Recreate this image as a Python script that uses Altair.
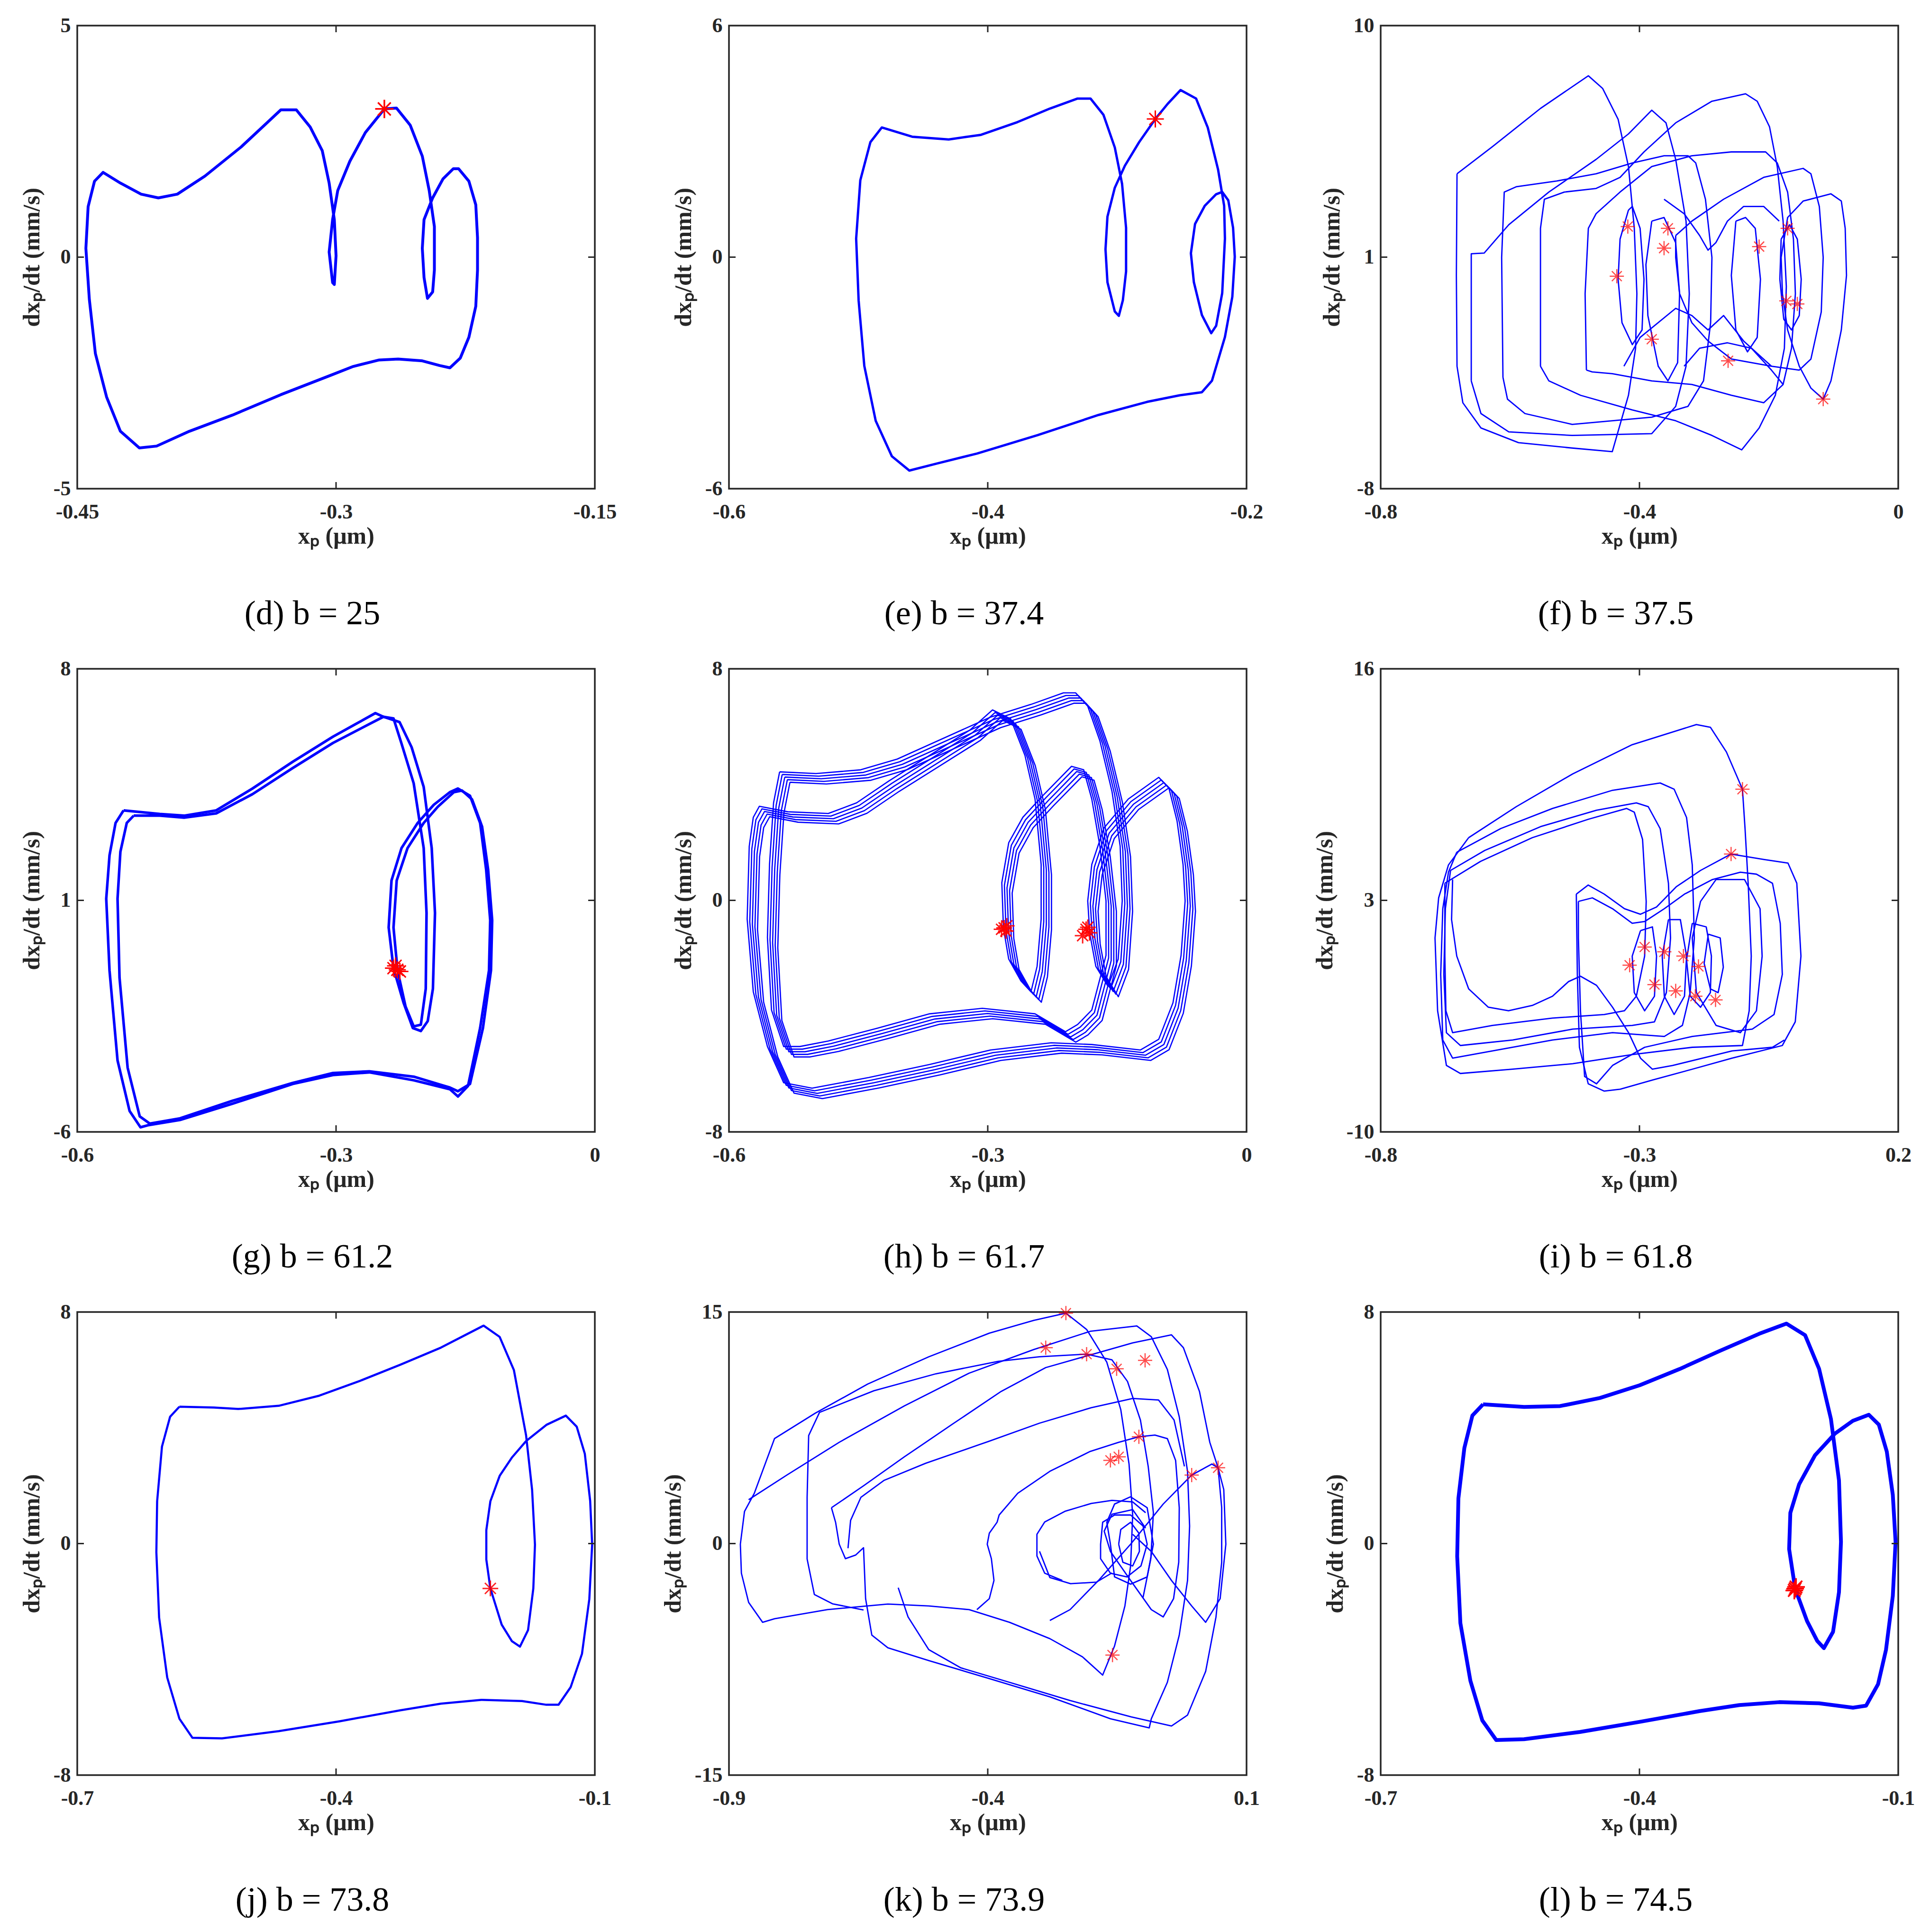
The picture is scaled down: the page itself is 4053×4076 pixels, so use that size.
import altair as alt
import pandas as pd

BLUE = "#0000ff"
RED = "#ff0000"
FRAME = "#262626"
SERIF = "Liberation Serif"
STAR = "M-1,0L1,0M0,-1L0,1M-0.7,-0.7L0.7,0.7M-0.7,0.7L0.7,-0.7"
W, H = 1092, 977

# ---------------- (d) b = 25 ----------------
d_curve = [(-0.272,3.20),(-0.265,3.22),(-0.257,2.85),(-0.250,2.18),(-0.246,1.44),(-0.243,0.66),(-0.243,-0.28),(-0.244,-0.75),(-0.247,-0.89),(-0.249,-0.44),(-0.250,0.19),(-0.249,0.81),(-0.244,1.28),(-0.238,1.69),(-0.232,1.91),(-0.229,1.91),(-0.223,1.64),(-0.219,1.13),(-0.218,0.42),(-0.218,-0.28),(-0.219,-1.06),(-0.223,-1.73),(-0.228,-2.18),(-0.234,-2.39),(-0.240,-2.34),(-0.250,-2.24),(-0.264,-2.20),(-0.275,-2.22),(-0.290,-2.36),(-0.303,-2.55),(-0.332,-2.97),(-0.360,-3.41),(-0.385,-3.76),(-0.404,-4.08),(-0.414,-4.12),(-0.425,-3.76),(-0.433,-3.02),(-0.4395,-2.08),(-0.443,-0.91),(-0.445,0.19),(-0.4437,1.09),(-0.440,1.64),(-0.435,1.83),(-0.425,1.60),(-0.413,1.36),(-0.403,1.28),(-0.392,1.36),(-0.376,1.75),(-0.355,2.38),(-0.332,3.18),(-0.323,3.18),(-0.315,2.81),(-0.308,2.30),(-0.304,1.60),(-0.301,0.81),(-0.300,0.03),(-0.301,-0.59),(-0.302,-0.55),(-0.304,0.11),(-0.302,0.81),(-0.299,1.44),(-0.292,2.07),(-0.283,2.69),(-0.272,3.20)]
d_stars = [(-0.272,3.20)]

# ---------------- (e) b = 37.4 ----------------
e_curve = [(-0.2705,3.58),(-0.261,3.97),(-0.251,4.33),(-0.239,4.11),(-0.230,3.36),(-0.222,2.27),(-0.2173,1.33),(-0.2167,0.48),(-0.2188,-0.93),(-0.2235,-1.78),(-0.2273,-1.97),(-0.2345,-1.50),(-0.2407,-0.65),(-0.243,0.10),(-0.2398,0.86),(-0.2323,1.33),(-0.2235,1.63),(-0.2188,1.69),(-0.2141,1.47),(-0.2104,0.76),(-0.2091,0.01),(-0.211,-1.03),(-0.2167,-2.07),(-0.2267,-3.20),(-0.2345,-3.50),(-0.2517,-3.58),(-0.2768,-3.75),(-0.3144,-4.09),(-0.3613,-4.61),(-0.4083,-5.09),(-0.4396,-5.35),(-0.4606,-5.53),(-0.4741,-5.16),(-0.4866,-4.24),(-0.4954,-2.82),(-0.4998,-1.12),(-0.5017,0.48),(-0.4985,1.99),(-0.4907,2.98),(-0.4819,3.36),(-0.4584,3.12),(-0.4302,3.05),(-0.4052,3.17),(-0.377,3.50),(-0.352,3.85),(-0.3306,4.11),(-0.3206,4.11),(-0.3106,3.69),(-0.3018,2.84),(-0.2962,1.90),(-0.2931,0.76),(-0.2931,-0.37),(-0.2956,-1.12),(-0.2987,-1.52),(-0.3018,-1.41),(-0.3075,-0.65),(-0.309,0.20),(-0.3075,1.05),(-0.3018,1.80),(-0.294,2.37),(-0.283,2.98),(-0.2705,3.58)]
e_stars = [(-0.2705,3.58)]

# ---------------- (f) b = 37.5 ----------------
f_c1 = [(-0.682,4.24),(-0.627,5.30),(-0.553,6.78),(-0.479,8.05),(-0.457,7.56),(-0.433,6.36),(-0.417,4.52),(-0.408,2.12),(-0.404,-0.42),(-0.406,-2.54),(-0.417,-4.37),(-0.442,-6.56),(-0.504,-6.42),(-0.587,-6.21),(-0.645,-5.64),(-0.673,-4.66),(-0.682,-3.24),(-0.683,0.29),(-0.682,4.24)]
f_c2 = [(-0.660,-3.81),(-0.660,1.13),(-0.640,1.16),(-0.602,2.26),(-0.540,3.53),(-0.467,4.80),(-0.417,5.79),(-0.381,6.71),(-0.359,6.22),(-0.344,4.80),(-0.328,2.40),(-0.323,-0.42),(-0.328,-3.24),(-0.344,-4.80),(-0.381,-5.86),(-0.504,-5.93),(-0.602,-5.79),(-0.645,-5.08),(-0.660,-3.81)]
f_c3 = [(-0.611,-3.67),(-0.613,0.99),(-0.609,3.53),(-0.590,3.74),(-0.528,3.96),(-0.467,4.24),(-0.411,4.66),(-0.362,4.94),(-0.325,4.94),(-0.313,4.66),(-0.298,3.25),(-0.288,0.99),(-0.290,-1.55),(-0.301,-3.81),(-0.325,-4.80),(-0.381,-5.22),(-0.504,-5.50),(-0.577,-5.08),(-0.604,-4.52),(-0.611,-3.67)]
f_c4 = [(-0.553,-3.24),(-0.553,2.12),(-0.547,3.25),(-0.516,3.53),(-0.467,3.67),(-0.430,4.10),(-0.393,5.09),(-0.344,6.22),(-0.288,7.06),(-0.236,7.35),(-0.218,7.06),(-0.199,6.07),(-0.187,4.52),(-0.178,2.40),(-0.173,-0.14),(-0.176,-2.54),(-0.190,-4.37),(-0.215,-5.64),(-0.242,-6.49),(-0.288,-5.93),(-0.344,-5.36),(-0.411,-4.94),(-0.491,-4.37),(-0.540,-3.81),(-0.553,-3.24)]
f_c5 = [(-0.482,-3.39),(-0.484,-0.42),(-0.479,2.12),(-0.467,2.69),(-0.430,3.53),(-0.381,4.52),(-0.319,4.94),(-0.258,5.09),(-0.205,5.09),(-0.187,4.66),(-0.171,3.53),(-0.162,1.70),(-0.159,-0.42),(-0.165,-2.54),(-0.178,-3.95),(-0.208,-4.66),(-0.258,-4.37),(-0.319,-3.95),(-0.381,-3.81),(-0.442,-3.53),(-0.473,-3.46),(-0.482,-3.39)]
f_c6 = [(-0.344,1.84),(-0.319,2.40),(-0.270,3.25),(-0.208,4.10),(-0.147,4.45),(-0.135,4.24),(-0.122,2.97),(-0.116,0.99),(-0.119,-1.13),(-0.135,-2.96),(-0.153,-3.39),(-0.196,-3.24),(-0.258,-2.96),(-0.294,-2.26),(-0.319,-1.55),(-0.338,-0.42),(-0.344,0.99),(-0.344,1.84)]
f_c7 = [(-0.181,0.99),(-0.171,2.54),(-0.147,3.18),(-0.104,3.46),(-0.088,3.18),(-0.082,2.12),(-0.080,0.29),(-0.088,-1.83),(-0.104,-3.81),(-0.116,-4.52),(-0.135,-4.09),(-0.153,-3.24),(-0.171,-1.83),(-0.179,-0.42),(-0.181,0.99)]
f_c8 = [(-0.417,2.83),(-0.430,1.70),(-0.433,0.14),(-0.427,-1.55),(-0.411,-2.40),(-0.396,-1.83),(-0.393,0.14),(-0.399,2.12),(-0.411,2.97),(-0.417,2.83)]
f_c9 = [(-0.381,2.40),(-0.390,0.71),(-0.387,-1.27),(-0.371,-3.24),(-0.356,-3.81),(-0.341,-3.10),(-0.338,-0.42),(-0.344,1.56),(-0.362,2.54),(-0.381,2.40)]
f_c10 = [(-0.251,2.40),(-0.258,0.29),(-0.251,-1.83),(-0.233,-2.68),(-0.218,-2.12),(-0.213,0.14),(-0.221,2.12),(-0.236,2.54),(-0.251,2.40)]
f_c11 = [(-0.181,1.70),(-0.183,0.14),(-0.177,-1.41),(-0.165,-1.83),(-0.153,-1.27),(-0.150,0.14),(-0.156,1.70),(-0.168,2.26),(-0.181,1.70)]
f_c12 = [(-0.362,3.25),(-0.331,2.69),(-0.307,1.84),(-0.294,1.27),(-0.282,1.56),(-0.264,2.40),(-0.239,2.97),(-0.208,2.97),(-0.184,2.40)]
f_c13 = [(-0.424,-3.24),(-0.399,-2.12),(-0.344,-0.99),(-0.319,-1.27),(-0.294,-1.83),(-0.270,-1.27),(-0.239,-2.26),(-0.196,-3.24)]
f_c14 = [(-0.331,-3.24),(-0.307,-2.54),(-0.264,-2.33),(-0.227,-2.54),(-0.196,-3.39),(-0.178,-3.95)]
f_stars = [(-0.418,2.19),(-0.356,2.12),(-0.362,1.35),(-0.435,0.26),(-0.381,-2.19),(-0.263,-3.03),(-0.215,1.41),(-0.171,2.12),(-0.173,-0.70),(-0.156,-0.82),(-0.116,-4.52)]

# ---------------- (g) b = 61.2 ----------------
g_c1 = [(-0.5463,3.72),(-0.5043,3.61),(-0.4762,3.56),(-0.4389,3.72),(-0.3969,4.38),(-0.3502,5.19),(-0.3035,5.95),(-0.2544,6.66),(-0.2451,6.55),(-0.2264,6.39),(-0.2124,5.63),(-0.1984,4.43),(-0.1891,2.58),(-0.1853,0.62),(-0.1877,-1.67),(-0.1937,-2.65),(-0.2017,-2.95),(-0.211,-2.86),(-0.2217,-2.10),(-0.2334,-1.05),(-0.239,0.18),(-0.2357,1.60),(-0.2241,2.58),(-0.2054,3.34),(-0.1867,3.89),(-0.1681,4.27),(-0.1587,4.38),(-0.1447,4.16),(-0.1330,3.34),(-0.126,1.93),(-0.1213,0.40),(-0.1227,-1.12),(-0.133,-2.86),(-0.147,-4.61),(-0.1587,-4.93),(-0.1680,-4.71),(-0.2100,-4.44),(-0.2614,-4.20),(-0.3035,-4.28),(-0.3502,-4.55),(-0.4202,-5.15),(-0.4809,-5.64),(-0.5183,-5.80),(-0.5267,-5.86),(-0.5393,-5.37),(-0.5533,-3.84),(-0.5626,-1.12),(-0.5664,1.05),(-0.5626,2.36),(-0.5556,3.34),(-0.5463,3.72)]
g_c2 = [(-0.5346,3.56),(-0.5043,3.56),(-0.4762,3.50),(-0.4389,3.63),(-0.3969,4.21),(-0.3502,5.00),(-0.3035,5.76),(-0.2451,6.55),(-0.2334,6.50),(-0.2241,5.74),(-0.2100,4.54),(-0.1984,2.58),(-0.1951,0.62),(-0.1960,-1.67),(-0.2017,-2.76),(-0.2100,-2.81),(-0.2194,-2.21),(-0.2287,-1.12),(-0.2334,0.18),(-0.2297,1.60),(-0.2171,2.58),(-0.1984,3.34),(-0.182,3.83),(-0.1634,4.27),(-0.154,4.32),(-0.1423,4.05),(-0.1307,3.23),(-0.1237,1.93),(-0.119,0.40),(-0.1204,-1.12),(-0.1297,-2.86),(-0.1447,-4.55),(-0.1587,-4.77),(-0.1680,-4.66),(-0.2100,-4.33),(-0.2614,-4.17),(-0.3035,-4.22),(-0.3502,-4.52),(-0.4202,-5.06),(-0.4809,-5.59),(-0.5159,-5.75),(-0.5276,-5.53),(-0.5416,-4.06),(-0.551,-1.34),(-0.5533,1.05),(-0.55,2.47),(-0.5426,3.34),(-0.5346,3.56)]
g_stars = [(-0.2334,-1.05),(-0.229,-1.10),(-0.226,-1.15),(-0.231,-0.98)]

# ---------------- (h) b = 61.7 ----------------
h_base = [(-0.5413,4.44),(-0.499,4.38),(-0.4473,4.51),(-0.405,4.88),(-0.358,5.51),(-0.2969,6.33),(-0.2499,6.77),(-0.2123,7.17),(-0.1982,7.17),(-0.1841,6.71),(-0.17,5.51),(-0.1559,3.75),(-0.1465,1.87),(-0.1441,-0.02),(-0.1488,-2.03),(-0.1606,-2.97),(-0.1747,-2.28),(-0.1817,-1.15),(-0.1841,-0.02),(-0.1794,1.24),(-0.1653,2.50),(-0.1371,3.50),(-0.1018,4.25),(-0.09,3.88),(-0.0806,2.75),(-0.0736,1.24),(-0.0712,-0.02),(-0.0759,-1.90),(-0.0853,-3.54),(-0.1018,-4.80),(-0.123,-5.17),(-0.1794,-4.98),(-0.2264,-4.92),(-0.2969,-5.17),(-0.3674,-5.67),(-0.4379,-6.12),(-0.5037,-6.49),(-0.5366,-6.30),(-0.5554,-5.05),(-0.5718,-3.16),(-0.5789,-0.65),(-0.5765,1.87),(-0.5718,2.87),(-0.5648,3.25),(-0.5319,3.06),(-0.4849,3.00),(-0.452,3.37),(-0.4144,4.13),(-0.3674,5.01),(-0.3204,5.89),(-0.2945,6.58),(-0.2734,6.27),(-0.2569,5.01),(-0.2452,3.50),(-0.2381,1.24),(-0.2381,-0.65),(-0.2428,-2.28),(-0.2499,-3.16),(-0.2616,-2.78),(-0.2757,-2.03),(-0.2818,-0.96),(-0.2837,0.61),(-0.2757,1.99),(-0.2593,2.87),(-0.2358,3.63),(-0.2029,4.63),(-0.1888,4.51),(-0.1794,3.50),(-0.17,1.87),(-0.1629,-0.02),(-0.1629,-1.90),(-0.1794,-3.79),(-0.1958,-4.29),(-0.2099,-4.54),(-0.2452,-3.92),(-0.3063,-3.73),(-0.3674,-3.92),(-0.4285,-4.42),(-0.4849,-4.86),(-0.5178,-5.05),(-0.5366,-5.05),(-0.5507,-3.79),(-0.5554,-1.28),(-0.553,1.24),(-0.5483,3.37),(-0.5413,4.44)]
h_strand_dx = [0.0, 0.003, 0.006, 0.009, 0.012]
h_strand_dy = [0.0, -0.09, -0.18, -0.27, -0.36]
h_stars = [(-0.281,-0.95),(-0.278,-0.88),(-0.284,-1.00),(-0.279,-1.06),(-0.186,-1.00),(-0.182,-1.12),(-0.190,-1.22),(-0.184,-0.93)]

# ---------------- (i) b = 61.8 ----------------
i_c1 = [(-0.630,6.52),(-0.538,8.26),(-0.429,10.10),(-0.314,11.74),(-0.190,12.87),(-0.163,12.72),(-0.132,11.33),(-0.101,9.24),(-0.096,7.03),(-0.090,3.96),(-0.084,-0.13),(-0.088,-3.20),(-0.101,-5.15),(-0.198,-5.25),(-0.314,-5.66),(-0.429,-6.17),(-0.545,-6.48),(-0.646,-6.72),(-0.673,-6.27),(-0.690,-3.20),(-0.695,0.89),(-0.688,3.14),(-0.669,4.99),(-0.630,6.52)]
i_c2 = [(-0.653,5.70),(-0.568,7.03),(-0.468,8.16),(-0.352,9.18),(-0.260,9.59),(-0.233,9.24),(-0.209,7.65),(-0.198,4.99),(-0.194,0.89),(-0.202,-2.18),(-0.217,-4.02),(-0.252,-4.64),(-0.352,-4.43),(-0.468,-4.84),(-0.584,-5.45),(-0.661,-5.86),(-0.680,-4.84),(-0.684,-1.16),(-0.680,2.53),(-0.669,4.58),(-0.653,5.70)]
i_c3 = [(-0.665,4.68),(-0.599,5.80),(-0.491,7.14),(-0.383,8.06),(-0.306,8.47),(-0.283,8.26),(-0.260,7.03),(-0.244,3.96),(-0.240,0.89),(-0.248,-2.18),(-0.271,-3.82),(-0.314,-4.02),(-0.429,-4.23),(-0.545,-4.84),(-0.646,-5.15),(-0.673,-4.43),(-0.678,-1.16),(-0.675,2.53),(-0.665,4.68)]
i_c4 = [(-0.676,3.96),(-0.607,5.19),(-0.507,6.52),(-0.399,7.55),(-0.325,8.16),(-0.310,7.95),(-0.294,6.42),(-0.287,2.94),(-0.290,-0.13),(-0.306,-2.38),(-0.329,-3.20),(-0.368,-3.41),(-0.468,-3.61),(-0.584,-4.02),(-0.661,-4.43),(-0.674,-3.20),(-0.676,-0.13),(-0.676,3.96)]
i_c5 = [(-0.661,4.17),(-0.663,1.92),(-0.653,-0.13),(-0.630,-1.97),(-0.592,-3.00),(-0.553,-3.20),(-0.507,-2.90),(-0.468,-2.38),(-0.437,-1.56),(-0.414,-1.26),(-0.383,-1.77),(-0.352,-3.00),(-0.321,-4.43),(-0.298,-5.86),(-0.275,-6.48),(-0.236,-6.27),(-0.121,-5.45),(-0.043,-5.25),(-0.020,-4.84)]
i_c6 = [(-0.422,3.35),(-0.399,3.86),(-0.368,3.35),(-0.329,2.53),(-0.298,2.22),(-0.267,2.63),(-0.229,3.76),(-0.182,4.68),(-0.123,5.60),(-0.059,5.29),(-0.013,5.09),(0.004,3.96),(0.012,-0.13),(0.001,-3.82),(-0.024,-5.15),(-0.121,-5.86),(-0.198,-6.48),(-0.275,-7.09),(-0.337,-7.60),(-0.368,-7.71),(-0.399,-7.30),(-0.416,-5.25),(-0.420,-1.16),(-0.422,3.35)]
i_c7 = [(-0.418,2.94),(-0.391,3.14),(-0.352,2.53),(-0.314,1.71),(-0.290,1.81),(-0.252,2.53),(-0.213,3.35),(-0.159,4.17),(-0.105,4.58),(-0.074,4.47),(-0.043,3.96),(-0.028,1.71),(-0.024,-1.16),(-0.040,-3.41),(-0.082,-4.23),(-0.198,-4.64),(-0.290,-5.25),(-0.352,-6.27),(-0.383,-7.30),(-0.406,-6.89),(-0.414,-3.20),(-0.418,0.89),(-0.418,2.94)]
i_c8 = [(-0.298,1.30),(-0.314,-0.13),(-0.310,-2.18),(-0.290,-3.20),(-0.271,-2.38),(-0.267,-0.13),(-0.275,1.51),(-0.298,1.30)]
i_c9 = [(-0.244,1.92),(-0.256,-0.13),(-0.252,-2.38),(-0.233,-3.41),(-0.213,-2.38),(-0.209,-0.13),(-0.221,1.92),(-0.244,1.92)]
i_c10 = [(-0.198,1.71),(-0.209,-0.34),(-0.202,-2.38),(-0.182,-3.00),(-0.163,-2.18),(-0.161,-0.13),(-0.171,1.51),(-0.198,1.71)]
i_c11 = [(-0.167,1.10),(-0.175,-0.54),(-0.163,-1.97),(-0.148,-2.18),(-0.138,-0.75),(-0.144,0.89),(-0.167,1.10)]
i_c12 = [(-0.152,4.17),(-0.182,2.94),(-0.198,0.89),(-0.190,-2.18),(-0.152,-4.02),(-0.105,-4.43),(-0.074,-3.20),(-0.063,-0.13),(-0.067,2.53),(-0.097,4.17),(-0.152,4.17)]
i_stars = [(-0.101,9.24),(-0.123,5.60),(-0.290,0.38),(-0.252,0.11),(-0.215,-0.13),(-0.186,-0.71),(-0.319,-0.64),(-0.271,-1.73),(-0.230,-2.08),(-0.192,-2.38),(-0.153,-2.59)]

# ---------------- (j) b = 73.8 ----------------
j_curve = [(-0.5816,4.73),(-0.5416,4.70),(-0.5134,4.65),(-0.4664,4.76),(-0.4194,5.11),(-0.3724,5.62),(-0.3254,6.18),(-0.2784,6.77),(-0.229,7.53),(-0.2103,7.14),(-0.1938,5.99),(-0.1797,3.74),(-0.1727,1.85),(-0.1694,-0.04),(-0.1713,-1.55),(-0.1774,-2.99),(-0.1868,-3.56),(-0.1962,-3.37),(-0.208,-2.80),(-0.2211,-1.55),(-0.2258,-0.55),(-0.2258,0.46),(-0.2211,1.46),(-0.2103,2.34),(-0.1962,2.97),(-0.1797,3.54),(-0.1562,4.10),(-0.1336,4.42),(-0.121,4.04),(-0.1116,3.10),(-0.1054,1.47),(-0.1031,-0.04),(-0.1064,-1.92),(-0.1149,-3.81),(-0.128,-4.96),(-0.1421,-5.57),(-0.1562,-5.57),(-0.1844,-5.44),(-0.2314,-5.40),(-0.2784,-5.53),(-0.3254,-5.76),(-0.3959,-6.14),(-0.4664,-6.48),(-0.5322,-6.73),(-0.5665,-6.71),(-0.5816,-6.05),(-0.5957,-4.63),(-0.6051,-2.56),(-0.6083,-0.30),(-0.6074,1.46),(-0.6018,3.35),(-0.5924,4.38),(-0.5816,4.73)]
j_stars = [(-0.2211,-1.55)]

# ---------------- (k) b = 73.9 ----------------
k_c1 = [(-0.878,-0.04),(-0.870,2.08),(-0.851,3.26),(-0.812,6.80),(-0.733,8.45),(-0.632,10.33),(-0.514,12.10),(-0.397,13.63),(-0.311,14.46),(-0.249,14.93),(-0.209,13.87),(-0.170,11.75),(-0.143,8.68),(-0.127,5.15),(-0.120,1.85),(-0.124,-1.45),(-0.135,-4.04),(-0.155,-6.63),(-0.178,-8.52),(-0.217,-7.34),(-0.280,-6.16),(-0.358,-5.10),(-0.436,-4.28),(-0.514,-4.04),(-0.593,-3.92),(-0.710,-4.28),(-0.812,-4.87),(-0.835,-5.10),(-0.862,-3.81),(-0.876,-1.92),(-0.878,-0.04)]
k_c2 = [(-0.862,2.84),(-0.788,4.44),(-0.687,6.56),(-0.561,8.92),(-0.436,11.04),(-0.311,12.57),(-0.202,13.75),(-0.112,14.10),(-0.084,13.40),(-0.053,11.28),(-0.030,8.21),(-0.014,4.68),(-0.010,1.14),(-0.014,-2.39),(-0.030,-5.93),(-0.053,-8.99),(-0.084,-11.35),(-0.088,-11.94),(-0.163,-11.35),(-0.280,-9.93),(-0.397,-8.75),(-0.514,-7.58),(-0.593,-6.75),(-0.624,-5.93),(-0.636,-3.57),(-0.640,-0.27),(-0.655,-0.74),(-0.675,-0.98),(-0.687,-0.04),(-0.694,1.38),(-0.702,2.32)]
k_c3 = [(-0.702,2.32),(-0.640,3.74),(-0.561,5.62),(-0.468,7.74),(-0.374,9.86),(-0.288,11.40),(-0.202,12.22),(-0.120,13.00),(-0.045,13.52),(-0.022,12.69),(0.009,9.86),(0.029,6.56),(0.045,4.91),(0.052,2.32),(0.052,-1.21),(0.041,-4.75),(0.021,-8.28),(-0.014,-11.11),(-0.045,-11.82),(-0.123,-11.23),(-0.241,-10.17),(-0.358,-8.99),(-0.452,-8.05),(-0.514,-6.87),(-0.554,-4.75),(-0.573,-2.86)]
k_c4 = [(-0.421,-4.28),(-0.397,-3.57),(-0.388,-2.39),(-0.393,-0.98),(-0.401,-0.04),(-0.397,0.67),(-0.382,1.38),(-0.378,1.85),(-0.342,3.26),(-0.280,4.68),(-0.202,5.97),(-0.147,6.56),(-0.108,6.92),(-0.077,7.03),(-0.053,6.80),(-0.037,5.38),(-0.030,2.32),(-0.031,-1.21),(-0.041,-3.57),(-0.061,-4.75),(-0.084,-4.28),(-0.124,-2.39),(-0.163,-0.51),(-0.175,0.80),(-0.160,1.90),(-0.120,2.20),(-0.095,1.00)]
k_c5 = [(-0.280,-4.98),(-0.241,-4.28),(-0.186,-2.39),(-0.124,-0.04),(-0.061,2.56),(-0.006,4.44),(0.033,5.15),(0.045,4.91),(0.056,3.50),(0.060,-0.04),(0.049,-3.57),(0.021,-5.10),(-0.006,-4.04),(-0.045,-2.39),(-0.084,-0.51),(-0.120,0.60)]
k_c6 = [(-0.163,-0.04),(-0.170,1.38),(-0.155,2.56),(-0.124,3.03),(-0.092,2.32),(-0.080,-0.04),(-0.092,-2.16),(-0.124,-2.63),(-0.155,-2.16),(-0.163,-0.04)]
k_c7 = [(-0.182,-0.04),(-0.178,1.38),(-0.155,1.85),(-0.124,1.85),(-0.100,1.14),(-0.092,-0.04),(-0.104,-1.45),(-0.131,-2.16),(-0.163,-1.92),(-0.182,-0.98),(-0.182,-0.04)]
k_c8 = [(-0.147,-0.04),(-0.143,0.91),(-0.124,1.38),(-0.108,0.67),(-0.107,-0.51),(-0.120,-1.45),(-0.139,-1.21),(-0.147,-0.04)]
k_c9 = [(-0.256,-2.39),(-0.290,-1.92),(-0.305,-0.80),(-0.305,0.60),(-0.290,1.40),(-0.250,2.10),(-0.200,2.60),(-0.160,2.80),(-0.120,2.70),(-0.095,2.00)]
k_c10 = [(-0.300,-0.50),(-0.280,-2.20),(-0.240,-2.60),(-0.190,-2.50),(-0.160,-1.90)]
k_c11 = [(-0.640,-4.30),(-0.700,-3.90),(-0.735,-3.30),(-0.749,-1.00),(-0.749,3.00),(-0.746,7.00),(-0.725,8.50),(-0.620,9.90),(-0.500,11.00),(-0.380,11.80),(-0.300,12.10),(-0.209,12.27),(-0.160,11.90),(-0.130,10.50),(-0.105,8.00),(-0.090,5.00),(-0.080,2.00),(-0.085,-1.00),(-0.100,-3.50)]
k_c12 = [(-0.670,-0.30),(-0.665,1.50),(-0.645,3.00),(-0.600,4.10),(-0.520,5.20),(-0.400,6.60),(-0.300,7.80),(-0.200,8.80),(-0.120,9.40),(-0.070,9.30),(-0.040,8.00),(-0.020,5.00)]
k_stars = [(-0.249,14.93),(-0.288,12.69),(-0.209,12.27),(-0.151,11.32),(-0.096,11.87),(-0.108,6.92),(-0.163,5.39),(-0.147,5.62),(-0.006,4.44),(0.045,4.91),(-0.159,-7.22)]

# ---------------- (l) b = 74.5 ----------------
l_curve = [(-0.5813,4.81),(-0.5337,4.72),(-0.4921,4.75),(-0.4459,5.03),(-0.3997,5.47),(-0.3535,6.03),(-0.3073,6.65),(-0.2611,7.25),(-0.2297,7.60),(-0.208,7.20),(-0.1918,6.04),(-0.178,4.30),(-0.1687,2.18),(-0.1664,0.06),(-0.1687,-1.68),(-0.1756,-3.05),(-0.1862,-3.61),(-0.194,-3.36),(-0.2057,-2.68),(-0.2195,-1.56),(-0.2265,-0.19),(-0.2251,1.06),(-0.2149,2.05),(-0.1965,3.05),(-0.1734,3.80),(-0.1526,4.24),(-0.1341,4.45),(-0.1225,4.11),(-0.1133,3.18),(-0.1063,1.68),(-0.1031,0.06),(-0.1063,-1.81),(-0.1142,-3.67),(-0.1234,-4.86),(-0.1373,-5.60),(-0.1525,-5.67),(-0.1918,-5.52),(-0.2380,-5.48),(-0.2842,-5.58),(-0.3304,-5.79),(-0.3997,-6.16),(-0.4690,-6.51),(-0.5337,-6.76),(-0.566,-6.79),(-0.5822,-6.11),(-0.596,-4.74),(-0.6076,-2.75),(-0.6113,-0.44),(-0.6099,1.56),(-0.603,3.30),(-0.5937,4.42),(-0.5813,4.81)]
l_stars = [(-0.2195,-1.56),(-0.2185,-1.50),(-0.2205,-1.62)]

# ---------------- panel definitions ----------------
h_curves = [[(x + dx, y + dy) for (x, y) in h_base] for dx, dy in zip(h_strand_dx, h_strand_dy)]

PANELS = [
    dict(cap="(d) b = 25", xdom=[-0.45, -0.15], xt=[-0.45, -0.3, -0.15], ydom=[-5, 5], yt=[-5, 0, 5],
         curves=[d_curve], stars=d_stars, sw=6, ss=1500, so=1.0, ssw=3.5),
    dict(cap="(e) b = 37.4", xdom=[-0.6, -0.2], xt=[-0.6, -0.4, -0.2], ydom=[-6, 6], yt=[-6, 0, 6],
         curves=[e_curve], stars=e_stars, sw=5, ss=1300, so=1.0, ssw=3),
    dict(cap="(f) b = 37.5", xdom=[-0.8, 0], xt=[-0.8, -0.4, 0], ydom=[-8, 10], yt=[-8, 1, 10],
         curves=[f_c1, f_c2, f_c3, f_c4, f_c5, f_c6, f_c7, f_c8, f_c9, f_c10, f_c11, f_c12, f_c13, f_c14],
         stars=f_stars, sw=2.8, ss=900, so=0.7, ssw=2.5),
    dict(cap="(g) b = 61.2", xdom=[-0.6, 0], xt=[-0.6, -0.3, 0], ydom=[-6, 8], yt=[-6, 1, 8],
         curves=[g_c1, g_c2], stars=g_stars, sw=5.5, ss=1300, so=1.0, ssw=3),
    dict(cap="(h) b = 61.7", xdom=[-0.6, 0], xt=[-0.6, -0.3, 0], ydom=[-8, 8], yt=[-8, 0, 8],
         curves=h_curves, stars=h_stars, sw=2.6, ss=1100, so=0.9, ssw=3),
    dict(cap="(i) b = 61.8", xdom=[-0.8, 0.2], xt=[-0.8, -0.3, 0.2], ydom=[-10, 16], yt=[-10, 3, 16],
         curves=[i_c1, i_c2, i_c3, i_c4, i_c5, i_c6, i_c7, i_c8, i_c9, i_c10, i_c11, i_c12],
         stars=i_stars, sw=2.8, ss=900, so=0.7, ssw=2.5),
    dict(cap="(j) b = 73.8", xdom=[-0.7, -0.1], xt=[-0.7, -0.4, -0.1], ydom=[-8, 8], yt=[-8, 0, 8],
         curves=[j_curve], stars=j_stars, sw=4.5, ss=1100, so=0.85, ssw=3),
    dict(cap="(k) b = 73.9", xdom=[-0.9, 0.1], xt=[-0.9, -0.4, 0.1], ydom=[-15, 15], yt=[-15, 0, 15],
         curves=[k_c1, k_c2, k_c3, k_c4, k_c5, k_c6, k_c7, k_c8, k_c9, k_c10, k_c11, k_c12],
         stars=k_stars, sw=2.8, ss=900, so=0.7, ssw=2.5),
    dict(cap="(l) b = 74.5", xdom=[-0.7, -0.1], xt=[-0.7, -0.4, -0.1], ydom=[-8, 8], yt=[-8, 0, 8],
         curves=[l_curve], stars=l_stars, sw=8, ss=1400, so=1.0, ssw=3.5),
]


def curves_df(curves):
    rows = []
    for s, pts in enumerate(curves):
        for i, (x, y) in enumerate(pts):
            rows.append({"x": x, "y": y, "seg": s, "i": i})
    return pd.DataFrame(rows)


def panel(p):
    xs = alt.Scale(domain=p["xdom"], nice=False, zero=False)
    ys = alt.Scale(domain=p["ydom"], nice=False, zero=False)
    xax = alt.Axis(values=p["xt"], title="xₚ (μm)", labelExpr="'' + datum.value",
                   labelFlush=False, labelOverlap=False, labelPadding=27, titlePadding=4)
    yax = alt.Axis(values=p["yt"], title="dxₚ/dt (mm/s)", labelExpr="'' + datum.value",
                   labelFlush=False, labelOverlap=False, labelPadding=14, titlePadding=20)
    X = alt.X("x:Q", scale=xs, axis=xax)
    Y = alt.Y("y:Q", scale=ys, axis=yax)

    line = alt.Chart(curves_df(p["curves"])).mark_line(
        color=BLUE, strokeWidth=p["sw"], clip=True, strokeJoin="round"
    ).encode(x=X, y=Y, detail="seg:N", order="i:Q")

    stars = alt.Chart(pd.DataFrame(p["stars"], columns=["x", "y"])).mark_point(
        shape=STAR, filled=False, color=RED, size=p["ss"], strokeWidth=p["ssw"], opacity=p["so"]
    ).encode(x=X, y=Y)

    xt_df = pd.DataFrame({"x": [p["xt"][1]]})
    yt_df = pd.DataFrame({"y": [p["yt"][1]]})
    tick_top = alt.Chart(xt_df).mark_rule(color=FRAME, strokeWidth=3).encode(
        x=X, y=alt.value(0), y2=alt.value(14))
    tick_bot = alt.Chart(xt_df).mark_rule(color=FRAME, strokeWidth=3).encode(
        x=X, y=alt.value(H - 14), y2=alt.value(H))
    tick_l = alt.Chart(yt_df).mark_rule(color=FRAME, strokeWidth=3).encode(
        y=Y, x=alt.value(0), x2=alt.value(14))
    tick_r = alt.Chart(yt_df).mark_rule(color=FRAME, strokeWidth=3).encode(
        y=Y, x=alt.value(W - 14), x2=alt.value(W))

    return alt.layer(line, stars, tick_top, tick_bot, tick_l, tick_r).properties(
        width=W, height=H,
        title=alt.TitleParams(text=p["cap"], orient="bottom", font=SERIF, fontSize=72,
                              fontWeight="normal", color="black", offset=104, anchor="middle",
                              dx=-50),
    )


chart = alt.concat(*[panel(p) for p in PANELS], columns=3,
                   spacing={"row": 380, "column": 283}, bounds="flush").properties(
    padding={"left": 32, "top": 22, "right": 2, "bottom": 5},
    background="white",
).configure_view(
    stroke=FRAME, strokeWidth=3.5
).configure_axis(
    domain=False, ticks=False, grid=False,
    labelFont=SERIF, labelFontWeight="bold", labelFontSize=44, labelColor=FRAME,
    titleFont=SERIF, titleFontWeight="bold", titleFontSize=50, titleColor=FRAME,
)

chart.save("out.html", embed_options={"renderer": "svg", "actions": False})
